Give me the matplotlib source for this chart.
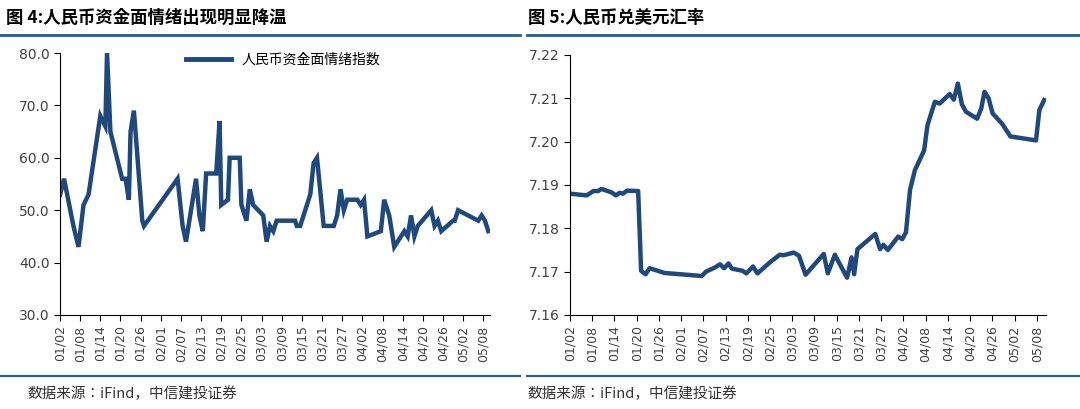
import matplotlib
matplotlib.use("Agg")
import matplotlib.pyplot as plt
from matplotlib.lines import Line2D

plt.rcParams['font.family'] = ['Noto Sans CJK JP', 'DejaVu Sans']

tick_labels = ['01/02','01/08','01/14','01/20','01/26','02/01','02/07','02/13','02/19','02/25',
               '03/03','03/09','03/15','03/21','03/27','04/02','04/08','04/14','04/20','04/26','05/02','05/08']

# left: sentiment index (day offset from 01/02, value)
sent_day = [0,1.2,4,5.5,7,8.5,12,13.5,14,15,18.5,19.5,20.5,21,22,24.5,25,35,36.5,37.5,40.5,41.5,42.5,43.5,
            46.5,47.5,48,50,50.5,53.5,54,55.5,56.5,57.5,60.5,61.5,62.5,63.5,64.5,70,70.5,71.5,74.5,75.5,76.5,
            78.5,81.5,82.5,83.5,84.5,85.5,88.5,89.5,90.5,91.5,95.5,96.5,98,99.5,102.5,103.5,104.5,105.5,106.5,
            110.5,111.5,112.5,113.5,117,117.5,118.5,124.5,125.5,126.5,127.5]
sent_val = [52.9,56,47,43,51,53,68,66,80,65,56,56,52,65,69,48,47,56,47,44,56,49,46,57,
            57,67,51,52,60,60,51,48,54,51,49,44,47,46,48,48,47,47,53,59,60,
            47,47,49,54,50,52,52,51,52,45,46,52,49,43,46,45,49,45,47,
            50,47,48,46,48,48,50,48,49,48,46]

# right: USD/CNY
fx_day = [0,4.5,6.3,7.6,8.5,11.2,12.4,13.4,14.3,15.4,18.4,19.2,20.4,21.5,25.5,35.6,36.7,39.2,40.5,41.6,42.8,43.7,
          46.6,47.6,49.4,50.6,53.9,56.6,57.7,60.4,61.8,63.6,68.5,69.6,71.5,74.8,76,76.7,77.6,82.4,83.7,84.6,85.8,
          88.6,89.7,90.7,91.8,93.1,95.6,96.5,98.5,99.8,102.5,103.6,104.7,105.8,106.9,109.9,111,111.9,113,114.1,
          116.6,118.9,125.8,126.7,128]
fx_val = [7.1880,7.1876,7.1886,7.1886,7.1891,7.1883,7.1876,7.1882,7.1880,7.1887,7.1886,7.1702,7.1694,7.1708,7.1697,
          7.1690,7.1700,7.1710,7.1717,7.1708,7.1719,7.1707,7.1702,7.1696,7.1712,7.1696,7.1721,7.1739,7.1738,7.1744,
          7.1737,7.1693,7.1741,7.1696,7.1739,7.1686,7.1733,7.1694,7.1752,7.1787,7.1752,7.1762,7.1750,7.1781,7.1775,
          7.1791,7.1889,7.1934,7.1980,7.2038,7.2092,7.2088,7.2110,7.2097,7.2134,7.2086,7.2069,7.2053,7.2076,7.2115,
          7.2100,7.2065,7.2042,7.2012,7.2003,7.2073,7.2096]

W, H = 1080, 409
fig = plt.figure(figsize=(W/100, H/100), dpi=100)
blue = '#1f497d'
rule = '#1f5f96'

def fx(px): return px / W
def fy(py): return 1 - py / H

tick_pos = list(range(0, 6*len(tick_labels), 6))

def setup(ax):
    for s in ['top', 'right']:
        ax.spines[s].set_visible(False)
    ax.set_xticks(tick_pos)
    ax.set_xticklabels(tick_labels, rotation=90, fontsize=9, color='#404040', family='DejaVu Sans')
    for t in ax.get_yticklabels():
        t.set_family('DejaVu Sans')
    ax.tick_params(axis='y', labelsize=10, labelcolor='#404040', length=4, direction='out')
    ax.tick_params(axis='x', length=4, direction='out')

ax1 = fig.add_axes([fx(60), fy(315), fx(430), (315-53)/H])
ax1.plot(sent_day, sent_val, color=blue, lw=3.2, solid_joinstyle='miter')
ax1.set_ylim(30, 80)
ax1.set_xlim(0, 128)
ax1.set_yticks([30,40,50,60,70,80])
ax1.set_yticklabels([f'{v:.1f}' for v in [30,40,50,60,70,80]])
setup(ax1)
ax1.legend([Line2D([0],[0],color=blue,lw=3.5)], ['人民币资金面情绪指数'], loc='upper center',
           bbox_to_anchor=(0.52, 1.05), frameon=False, fontsize=10, handlelength=3.2)

ax2 = fig.add_axes([fx(570), fy(315), fx(476), (315-55)/H])
ax2.plot(fx_day, fx_val, color=blue, lw=3.2)
ax2.set_ylim(7.16, 7.22)
ax2.set_xlim(0, 128.5)
ax2.set_yticks([7.16,7.17,7.18,7.19,7.20,7.21,7.22])
ax2.set_yticklabels([f'{v:.2f}' for v in [7.16,7.17,7.18,7.19,7.20,7.21,7.22]])
setup(ax2)

fig.text(fx(6), fy(18), '图 4:人民币资金面情绪出现明显降温', fontsize=12.5, fontweight='bold', va='center')
fig.text(fx(528), fy(18), '图 5:人民币兑美元汇率', fontsize=12.5, fontweight='bold', va='center')
for x0, x1 in [(0, 520), (527, 1080)]:
    fig.add_artist(Line2D([fx(x0), fx(x1)], [fy(35), fy(35)], color=rule, lw=2))
    fig.add_artist(Line2D([fx(x0), fx(x1)], [fy(376), fy(376)], color=rule, lw=1.5))
fig.text(fx(28), fy(394), '数据来源：iFind，中信建投证券', fontsize=10.5, style='italic', va='center', color='#333333')
fig.text(fx(528), fy(394), '数据来源：iFind，中信建投证券', fontsize=10.5, style='italic', va='center', color='#333333')

fig.savefig('out.png', dpi=100)
